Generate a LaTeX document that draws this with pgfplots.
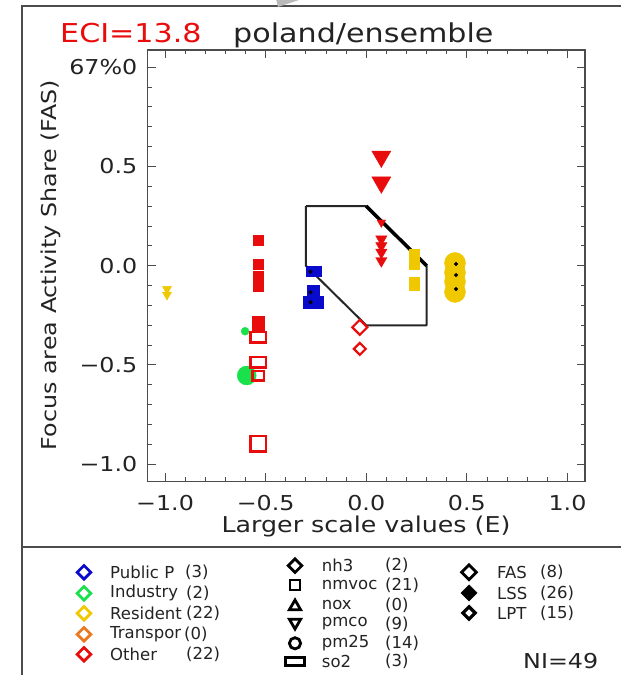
\documentclass[border=0pt]{standalone}
\usepackage{fontspec}
\setmainfont{DejaVu Sans}[FakeStretch=1.16]
\newfontfamily\legf{DejaVu Sans}
\usepackage{pgfplots}
\pgfplotsset{compat=1.18}
\definecolor{cblue}{RGB}{10,10,205}
\definecolor{cgreen}{RGB}{25,225,75}
\definecolor{cyel}{RGB}{240,200,0}
\definecolor{cred}{RGB}{232,12,12}
\definecolor{corange}{RGB}{235,120,30}
\definecolor{txt}{RGB}{35,35,35}
\newcommand{\ft}{\fontsize{20.5bp}{24bp}\selectfont}
\newcommand{\fx}{\fontsize{21.8bp}{25bp}\selectfont}
\newcommand{\fl}{\legf\fontsize{16.5bp}{19bp}\selectfont}
\newcommand{\fT}{\fontsize{26bp}{30bp}\selectfont}
\tikzset{lt/.style={font=\fl, text=txt, anchor=west, inner sep=0pt}}
\begin{document}
\begin{tikzpicture}[x=1bp,y=1bp]
\path[use as bounding box] (0,0) rectangle (621,675);
\begin{axis}[
  at={(147.5bp,193.5bp)}, anchor=south west, scale only axis,
  width=437.5bp, height=431.5bp,
  xmin=-1.087, xmax=1.087, ymin=-1.087, ymax=1.087,
  xtick={-1,-0.5,0,0.5,1}, ytick={-1,-0.5,0,0.5,1},
  xticklabels={−1.0,−0.5,0.0,0.5,1.0},
  yticklabels={−1.0,−0.5,0.0,0.5,67\%0},
  minor x tick num=4, minor y tick num=4,
  tick align=inside, major tick length=8bp, minor tick length=4.5bp,
  axis line style={line width=1.2bp, draw=black!70},
  every tick/.style={line width=1bp, draw=black!70},
  xticklabel style={font=\ft, text=txt, anchor=north, inner sep=0pt, yshift=-13.5bp},
  yticklabel style={font=\ft, text=txt, anchor=east, inner sep=0pt, xshift=-10bp},
  clip=false,
]
% Resident pmco
\addplot[only marks, mark=triangle*, mark size=5.3bp, color=cyel, mark options={rotate=180}] coordinates {(-0.99,-0.117) (-0.99,-0.146)};
% Other nmvoc
\addplot[only marks, mark=square*, mark size=4.8bp, color=cred] coordinates {(-0.536,0.129) (-0.536,0.009) (-0.536,-0.05) (-0.536,-0.075) (-0.536,-0.105)};
\addplot[only marks, mark=square*, mark size=6bp, color=cred] coordinates {(-0.536,-0.285) (-0.536,-0.30)};
% Industry pm25
\addplot[only marks, mark=*, mark size=4bp, color=cgreen] coordinates {(-0.602,-0.33)};
\addplot[only marks, mark=*, mark size=9.5bp, color=cgreen] coordinates {(-0.594,-0.553)};
% Other so2
\addplot[only marks, mark=square, mark size=5.25bp, color=cred, mark options={xscale=1.48, line width=2.5bp}] coordinates {(-0.536,-0.36) (-0.536,-0.486)};
\addplot[only marks, mark=square, mark size=4.75bp, color=cred, mark options={xscale=1.21, line width=2.5bp}] coordinates {(-0.536,-0.553)};
\addplot[only marks, mark=square, mark size=7.75bp, color=cred, mark options={line width=2.5bp}] coordinates {(-0.536,-0.896)};
% Public P nmvoc
\addplot[only marks, mark=square*, mark size=5bp, color=cblue, mark options={xscale=1.5}] coordinates {(-0.263,-0.03)};
\addplot[only marks, mark=square*, mark size=6bp, color=cblue] coordinates {(-0.263,-0.13)};
\addplot[only marks, mark=square*, mark size=6bp, color=cblue, mark options={xscale=1.67}] coordinates {(-0.263,-0.185)};
% Other pmco
\addplot[only marks, mark=triangle*, mark size=11bp, color=cred, mark options={rotate=180}] coordinates {(0.075,0.55) (0.075,0.42)};
\addplot[only marks, mark=triangle*, mark size=5bp, color=cred, mark options={rotate=180}] coordinates {(0.075,0.218)};
\addplot[only marks, mark=triangle*, mark size=6.5bp, color=cred, mark options={rotate=180}] coordinates {(0.075,0.134) (0.075,0.1) (0.075,0.067) (0.075,0.025)};
% Other nh3
\addplot[only marks, mark=square, mark size=5.3bp, color=cred, mark options={rotate=45, line width=2.2bp}] coordinates {(-0.032,-0.31)};
\addplot[only marks, mark=square, mark size=4.2bp, color=cred, mark options={rotate=45, line width=2.2bp}] coordinates {(-0.032,-0.419)};
% Resident nmvoc
\addplot[only marks, mark=square*, mark size=5bp, color=cyel] coordinates {(0.237,0.06) (0.237,0.01) (0.237,-0.085) (0.237,-0.1)};
% Resident pm25
\addplot[only marks, mark=*, mark size=10.5bp, color=cyel] coordinates {(0.441,0.014) (0.441,-0.035) (0.441,-0.08) (0.441,-0.132)};
% LPT dots
\addplot[only marks, mark=*, mark size=1.8bp, color=black] coordinates {(0.446,0.0085) (0.446,-0.047) (0.446,-0.117) (-0.277,-0.03) (-0.277,-0.134) (-0.277,-0.184)};
% polygon
\addplot[no markers, draw=black!85, line width=2bp, line join=round] coordinates {(-0.3,0.3) (0,0.3) (0.3,0) (0.3,-0.3) (0,-0.3) (-0.3,0) (-0.3,0.3)};
\addplot[no markers, draw=black, line width=3.5bp] coordinates {(0,0.3) (0.3,0)};
\end{axis}
\begin{axis}[
  at={(0bp,0bp)}, anchor=south west, scale only axis,
  width=621bp, height=675bp, xmin=0, xmax=621, ymin=0, ymax=675,
  hide axis, clip=false,
]
\draw[line width=2bp, black!70] (axis cs:21.7,-10) -- (axis cs:21.7,669) -- (axis cs:630,669);
\draw[line width=2bp, black!70] (axis cs:21.7,128.3) -- (axis cs:630,128.3);
\fill[gray!55] (axis cs:276,676) -- (axis cs:302,676) -- (axis cs:278,668) -- cycle;
\node[font=\fT, text=cred, anchor=base west, inner sep=0pt] at (axis cs:60,632) {ECI=13.8};
\node[font=\fT, text=txt, anchor=base west, inner sep=0pt] at (axis cs:233,632) {poland/ensemble};
\node[font=\fx, text=txt, anchor=base, inner sep=0pt] at (axis cs:366,142) {Larger scale values (E)};
\node[font=\ft, text=txt, anchor=base, inner sep=0pt, rotate=90] at (axis cs:56,410) {Focus area Activity Share (FAS)};
% legend column 1
\addplot[only marks, mark=square, mark size=4.8bp, color=cblue, mark options={rotate=45, line width=2.8bp}] coordinates {(84,102.7)};
\addplot[only marks, mark=square, mark size=4.8bp, color=cgreen, mark options={rotate=45, line width=2.8bp}] coordinates {(84,81.7)};
\addplot[only marks, mark=square, mark size=4.8bp, color=cyel, mark options={rotate=45, line width=2.8bp}] coordinates {(84,61.7)};
\addplot[only marks, mark=square, mark size=4.8bp, color=corange, mark options={rotate=45, line width=2.8bp}] coordinates {(84,40.7)};
\addplot[only marks, mark=square, mark size=4.8bp, color=cred, mark options={rotate=45, line width=2.8bp}] coordinates {(84,20.7)};
\node[lt] at (axis cs:110,102.7) {Public P};
\node[lt] at (axis cs:185,102.7) {(3)};
\node[lt] at (axis cs:110,81.7) {Industry};
\node[lt] at (axis cs:186,81.7) {(2)};
\node[lt] at (axis cs:110,61.7) {Resident};
\node[lt] at (axis cs:186,61.7) {(22)};
\node[lt] at (axis cs:110,40.7) {Transpor};
\node[lt] at (axis cs:184,40.7) {(0)};
\node[lt] at (axis cs:110,20.7) {Other};
\node[lt] at (axis cs:186,20.7) {(22)};
% legend column 2
\addplot[only marks, mark=square, mark size=4.8bp, color=black, mark options={rotate=45, line width=2.8bp}] coordinates {(295,109.3)};
\addplot[only marks, mark=square, mark size=5bp, color=black, mark options={line width=2.8bp}] coordinates {(295,90)};
\addplot[only marks, mark=triangle, mark size=6.5bp, color=black, mark options={line width=2.8bp}] coordinates {(295,68.5)};
\addplot[only marks, mark=triangle, mark size=6.5bp, color=black, mark options={rotate=180, line width=2.8bp}] coordinates {(295,52.5)};
\addplot[only marks, mark=o, mark size=5.6bp, color=black, mark options={line width=2.8bp}] coordinates {(295,31.7)};
\addplot[only marks, mark=square, mark size=4bp, color=black, mark options={xscale=2.4, line width=2.8bp}] coordinates {(295,13.3)};
\node[lt] at (axis cs:321.7,109.3) {nh3};
\node[lt] at (axis cs:385,109.3) {(2)};
\node[lt] at (axis cs:321.7,90) {nmvoc};
\node[lt] at (axis cs:385,90) {(21)};
\node[lt] at (axis cs:321.7,70) {nox};
\node[lt] at (axis cs:385,70) {(0)};
\node[lt] at (axis cs:321.7,51) {pmco};
\node[lt] at (axis cs:385,51) {(9)};
\node[lt] at (axis cs:321.7,31.7) {pm25};
\node[lt] at (axis cs:385,31.7) {(14)};
\node[lt] at (axis cs:321.7,13.3) {so2};
\node[lt] at (axis cs:385,13.3) {(3)};
% legend column 3
\addplot[only marks, mark=square, mark size=5.2bp, color=black, mark options={rotate=45, line width=2.8bp}] coordinates {(469,102.7)};
\addplot[only marks, mark=square*, mark size=5.8bp, color=black, mark options={rotate=45}] coordinates {(469,82)};
\addplot[only marks, mark=square, mark size=4.4bp, color=black, mark options={rotate=45, line width=3.2bp}] coordinates {(469,62)};
\node[lt] at (axis cs:497,102.7) {FAS};
\node[lt] at (axis cs:540,102.7) {(8)};
\node[lt] at (axis cs:497,82) {LSS};
\node[lt] at (axis cs:540,82) {(26)};
\node[lt] at (axis cs:497,62) {LPT};
\node[lt] at (axis cs:540,62) {(15)};
\node[font=\ft, text=txt, anchor=west, inner sep=0pt] at (axis cs:523,14) {NI=49};
\end{axis}
\end{tikzpicture}
\end{document}
